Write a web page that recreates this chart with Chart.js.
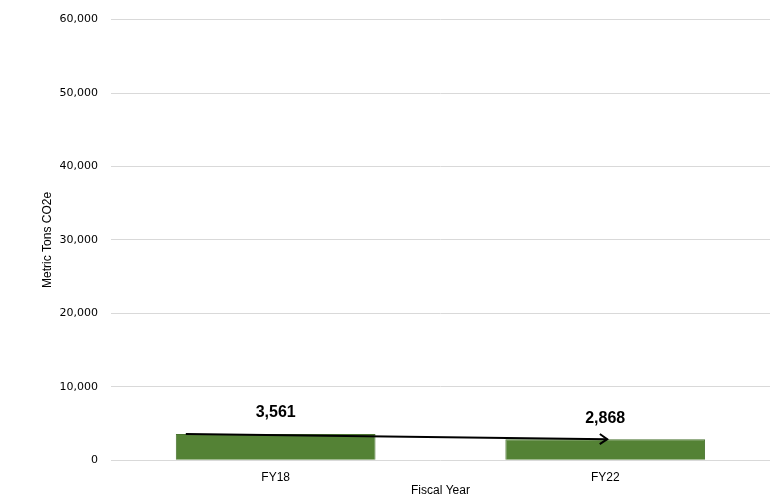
<!DOCTYPE html>
<html><head><meta charset="utf-8">
<script src="https://cdn.jsdelivr.net/npm/chart.js@4"></script>
<style>html,body{margin:0;padding:0;background:#fff}#c{display:block}</style>
</head><body>
<canvas id="c" width="772" height="500"></canvas>
<script>
const categories = ['FY18', 'FY22'];
const emissions = [3561, 2868];
const yTicks = [0, 10000, 20000, 30000, 40000, 50000, 60000];

const labelPlugin = {
  id: 'labels',
  afterDatasetsDraw(chart) {
    const ctx = chart.ctx;
    const meta = chart.getDatasetMeta(0);
    const y = chart.scales.y;
    ctx.save();
    ctx.font = 'bold 16px "Liberation Sans", sans-serif';
    ctx.fillStyle = '#000';
    ctx.textAlign = 'center';
    ctx.textBaseline = 'middle';
    meta.data.forEach((bar, i) => {
      ctx.fillText(emissions[i].toLocaleString('en-US'), bar.x, bar.y - 21);
    });
    const b0 = meta.data[0], b1 = meta.data[1];
    const x0 = b0.x - b0.width / 2 + 10, y0 = y.getPixelForValue(emissions[0]);
    const x1 = b1.x + 2, y1 = y.getPixelForValue(emissions[1]);
    ctx.strokeStyle = '#000';
    ctx.lineWidth = 2;
    ctx.beginPath();
    ctx.moveTo(x0, y0);
    ctx.lineTo(x1, y1);
    ctx.stroke();
    const ang = Math.atan2(y1 - y0, x1 - x0);
    const L = 9;
    ctx.beginPath();
    ctx.moveTo(x1 - L * Math.cos(ang - 0.6), y1 - L * Math.sin(ang - 0.6));
    ctx.lineTo(x1, y1);
    ctx.lineTo(x1 - L * Math.cos(ang + 0.6), y1 - L * Math.sin(ang + 0.6));
    ctx.stroke();
    ctx.restore();
  }
};

new Chart(document.getElementById('c'), {
  type: 'bar',
  data: {
    labels: categories,
    datasets: [{
      data: emissions,
      backgroundColor: '#548235',
      borderColor: '#4a7330',
      borderWidth: 1,
      categoryPercentage: 1,
      barPercentage: 0.606
    }]
  },
  options: {
    responsive: false,
    animation: false,
    layout: { padding: { left: 40, right: 2, top: 5, bottom: 2 } },
    plugins: { legend: { display: false }, tooltip: { enabled: false } },
    scales: {
      x: {
        grid: { display: false, drawTicks: false },
        border: { display: false },
        ticks: { color: '#000', font: { family: '"Liberation Sans", sans-serif', size: 12 }, padding: 10 },
        title: { display: true, text: 'Fiscal Year', color: '#000', font: { family: '"Liberation Sans", sans-serif', size: 12 }, padding: { top: -11, bottom: 0 } }
      },
      y: {
        min: 0, max: 60000,
        afterBuildTicks(axis) { axis.ticks = yTicks.map(v => ({ value: v })); },
        grid: { color: '#d9d9d9', drawTicks: false },
        border: { display: false },
        ticks: {
          color: '#000', padding: 13,
          font: { family: '"DejaVu Sans", sans-serif', size: 11 },
          callback: v => v.toLocaleString('en-US')
        },
        title: { display: true, text: 'Metric Tons CO2e', color: '#000', font: { family: '"Liberation Sans", sans-serif', size: 12 }, padding: { top: 0, bottom: -8 } }
      }
    }
  },
  plugins: [labelPlugin]
});
</script>
</body></html>
